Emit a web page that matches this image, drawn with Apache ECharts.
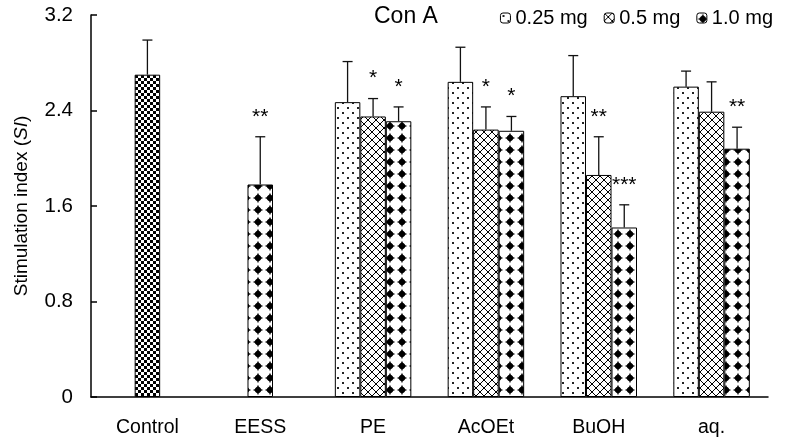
<!DOCTYPE html>
<html>
<head>
<meta charset="utf-8">
<script src="https://cdn.jsdelivr.net/npm/echarts@6/dist/echarts.min.js"></script>
<style>html,body{margin:0;padding:0;background:#fff}#c{width:786px;height:448px}</style>
</head>
<body>
<div id="c"></div>
<script>
// ---- data ----
const categories = ['Control', 'EESS', 'PE', 'AcOEt', 'BuOH', 'aq.'];
const seriesNames = ['0.25 mg', '0.5 mg', '1.0 mg'];
// Control and EESS are single bars drawn in the centre slot
const mean025 = [null, null, 2.47, 2.64, 2.52, 2.60];
const mean05  = [2.70, 1.78, 2.35, 2.24, 1.86, 2.39];
const mean10  = [null, null, 2.31, 2.23, 1.42, 2.08];
const sd025 = [null, null, 0.34, 0.29, 0.34, 0.13];
const sd05  = [0.29, 0.40, 0.15, 0.19, 0.32, 0.25];
const sd10  = [null, null, 0.12, 0.12, 0.19, 0.18];
const sig025 = ['', '', '', '', '', ''];
const sig05  = ['', '**', '*', '*', '**', ''];
const sig10  = ['', '', '*', '*', '***', '**'];
const yTicks = [0, 0.8, 1.6, 2.4, 3.2];

// ---- patterns ----
function tile(w, h, draw) {
  const c = document.createElement('canvas');
  c.width = w; c.height = h;
  const g = c.getContext('2d');
  g.fillStyle = '#fff'; g.fillRect(0, 0, w, h);
  draw(g, w, h);
  return { image: c, repeat: 'repeat' };
}
const patChecker = tile(6, 6, g => { g.fillStyle = '#000'; g.fillRect(0, 0, 3, 3); g.fillRect(3, 3, 3, 3); });
const patDots = tile(10, 10, g => { g.fillStyle = '#222'; g.fillRect(2, 2, 2, 2); g.fillRect(7, 7, 2, 2); });
const patCross = tile(8, 8, g => {
  g.strokeStyle = '#000'; g.lineWidth = 1;
  g.beginPath(); g.moveTo(-1, -1); g.lineTo(9, 9); g.moveTo(9, -1); g.lineTo(-1, 9); g.stroke();
});
const patDiamond = tile(12, 12, g => {
  g.fillStyle = '#000';
  g.beginPath();
  g.moveTo(6, 0.8);
  g.quadraticCurveTo(7.2, 4.8, 11.2, 6);
  g.quadraticCurveTo(7.2, 7.2, 6, 11.2);
  g.quadraticCurveTo(4.8, 7.2, 0.8, 6);
  g.quadraticCurveTo(4.8, 4.8, 6, 0.8);
  g.closePath(); g.fill();
  g.beginPath(); g.arc(6, 6, 3, 0, Math.PI * 2); g.fill();
});

const BAR_FRAC = 0.226;
const FONT = 'Liberation Sans, Arial, sans-serif';

function barData(arr) {
  return arr.map((v, i) => {
    if (categories[i] === 'Control') return { value: v, itemStyle: { color: patChecker } };
    if (categories[i] === 'EESS') return { value: v, itemStyle: { color: patDiamond } };
    return v;
  });
}

const groups = [[mean025, sd025, sig025, 0], [mean05, sd05, sig05, 1], [mean10, sd10, sig10, 2]];
const errData = [];
const errStars = [];
categories.forEach((c, i) => {
  groups.forEach(([m, s, g, slot]) => {
    if (m[i] != null) { errData.push([i, m[i], m[i] + s[i], slot]); errStars.push(g[i]); }
  });
});

const chart = echarts.init(document.getElementById('c'), null, { renderer: 'canvas' });
const barCommon = {
  type: 'bar', barWidth: (BAR_FRAC * 100) + '%', barGap: '0%',
};
chart.setOption({
  animation: false,
  textStyle: { fontFamily: FONT, color: '#000' },
  title: {
    text: 'Con A', left: 369, top: 0,
    textStyle: { fontFamily: FONT, fontSize: 23, fontWeight: 'normal', color: '#000' }
  },
  legend: {
    data: seriesNames, right: 8, top: 3, itemWidth: 10, itemHeight: 10, itemGap: 16,
    textStyle: { fontFamily: FONT, fontSize: 20, color: '#000' },
    itemStyle: { borderColor: '#000', borderWidth: 1 }
  },
  grid: { left: 91, right: 18, top: 15, bottom: 51 },
  xAxis: {
    type: 'category', data: categories,
    axisLine: { lineStyle: { color: '#000', width: 1.5 } },
    axisTick: { show: false },
    axisLabel: { fontSize: 19.5, color: '#000', margin: 21, fontFamily: FONT }
  },
  yAxis: {
    type: 'value', min: 0, max: 3.2, interval: 0.8,
    name: '{a|Stimulation index (}{b|SI}{a|)}',
    nameLocation: 'middle', nameGap: 60,
    nameTextStyle: {
      rich: {
        a: { fontSize: 19, fontFamily: FONT, color: '#000' },
        b: { fontSize: 19, fontFamily: FONT, color: '#000', fontStyle: 'italic' }
      }
    },
    axisLine: { show: true, lineStyle: { color: '#000', width: 1.5 } },
    axisTick: { show: true, inside: true, length: 6, lineStyle: { color: '#000', width: 1.5 } },
    splitLine: { show: false },
    axisLabel: {
      fontSize: 20.5, color: '#000', margin: 18, fontFamily: FONT,
      formatter: v => (yTicks.indexOf(v) >= 0 ? (v === 0 ? '0' : v.toFixed(1)) : '')
    }
  },
  series: [
    Object.assign({}, barCommon, { name: seriesNames[0], data: barData(mean025),
      itemStyle: { color: patDots, borderColor: '#000', borderWidth: 1 } }),
    Object.assign({}, barCommon, { name: seriesNames[1], data: barData(mean05),
      itemStyle: { color: patCross, borderColor: '#000', borderWidth: 1 } }),
    Object.assign({}, barCommon, { name: seriesNames[2], data: barData(mean10),
      itemStyle: { color: patDiamond, borderColor: '#000', borderWidth: 1 } }),
    {
      type: 'custom', name: 'err', z: 5,
      data: errData,
      encode: { x: 0, y: [1, 2] },
      renderItem: function (params, api) {
        const cat = api.value(0), mean = api.value(1), hi = api.value(2), slot = api.value(3);
        const bandW = api.size([1, 0])[0];
        const bw = bandW * BAR_FRAC;
        const base = api.coord([cat, mean]);
        const cx = base[0] + (slot - 1) * bw;
        const top = api.coord([cat, hi])[1];
        const star = errStars[params.dataIndex];
        return {
          type: 'group',
          children: [
            { type: 'line', shape: { x1: cx, y1: base[1], x2: cx, y2: top }, style: { stroke: '#111', lineWidth: 1.3 } },
            { type: 'line', shape: { x1: cx - 5, y1: top, x2: cx + 5, y2: top }, style: { stroke: '#111', lineWidth: 1.3 } },
            { type: 'text', style: { text: star, x: cx, y: top - 20, align: 'center', verticalAlign: 'middle',
              fontSize: 21, fontFamily: FONT, fill: '#000' } }
          ]
        };
      }
    }
  ]
});
</script>
</body>
</html>
